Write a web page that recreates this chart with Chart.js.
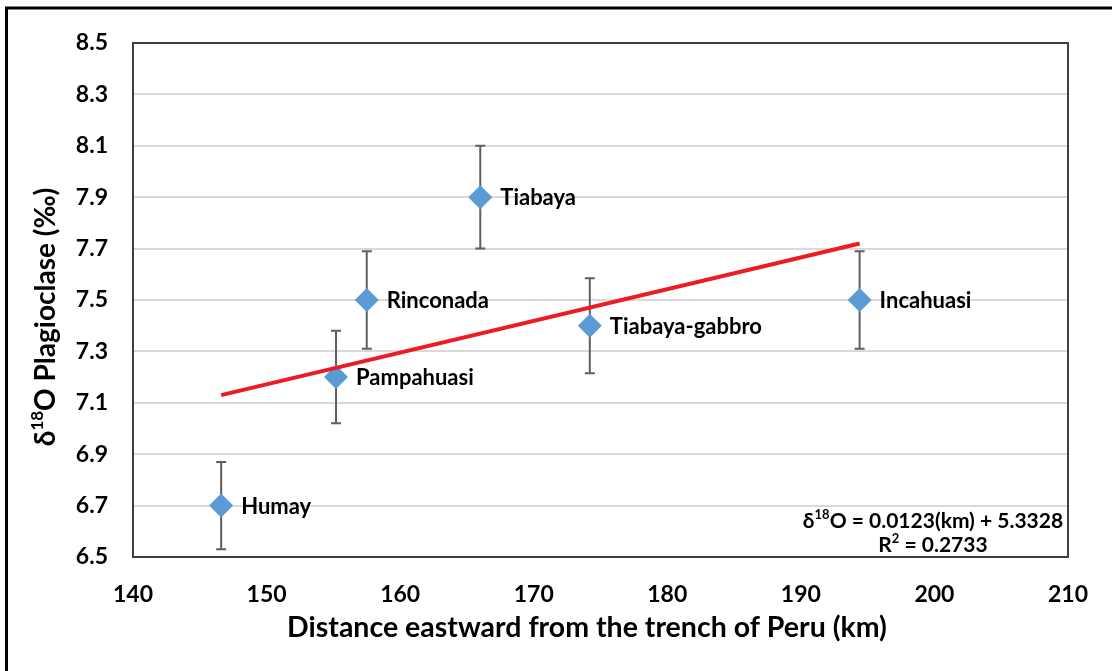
<!DOCTYPE html>
<html>
<head>
<meta charset="utf-8">
<title>d18O Plagioclase vs distance from trench</title>
<script src="https://cdn.jsdelivr.net/npm/chart.js@4.4.1/dist/chart.umd.min.js"></script>
<style>
    html, body { margin: 0; padding: 0; background: #ffffff; }
    #chart-wrap { width: 1112px; height: 671px; position: relative; }
</style>
</head>
<body>
<div id="chart-wrap"><canvas id="chart"></canvas></div>
<script>
// Data
const plutonNames = ["Humay", "Pampahuasi", "Rinconada", "Tiabaya", "Tiabaya-gabbro", "Incahuasi"];
const distanceKm = [146.6, 155.2, 157.5, 166.0, 174.2, 194.4];
const d18OValues = [6.70, 7.20, 7.50, 7.90, 7.40, 7.50];
const errorValues = [0.17, 0.18, 0.19, 0.20, 0.185, 0.19];
const trendX = [146.6, 194.4];
const trendY = [7.13, 7.72];
const xTickValues = [140, 150, 160, 170, 180, 190, 200, 210];
const yTickValues = [6.5, 6.7, 6.9, 7.1, 7.3, 7.5, 7.7, 7.9, 8.1, 8.3, 8.5];

const FONT = "Lato, 'Open Sans', sans-serif";

document.addEventListener("DOMContentLoaded", function() {
    const canvas = document.getElementById("chart");

    // Build the point lists for the library
    const points = distanceKm.map((x, i) => ({ x: x, y: d18OValues[i] }));
    const trend = trendX.map((x, i) => ({ x: x, y: trendY[i] }));

    // White page with the black frame on left and top
    const framePlugin = {
        id: "frame",
        beforeDraw(chart) {
            const ctx = chart.ctx;
            ctx.save();
            ctx.fillStyle = "#ffffff";
            ctx.fillRect(0, 0, chart.width, chart.height);
            ctx.strokeStyle = "#000000";
            ctx.lineWidth = 3;
            ctx.beginPath();
            ctx.moveTo(6.5, chart.height);
            ctx.lineTo(6.5, 8);
            ctx.lineTo(chart.width, 8);
            ctx.stroke();
            ctx.restore();
        },
        afterDraw(chart) {
            // plot area border
            const a = chart.chartArea;
            const ctx = chart.ctx;
            ctx.save();
            ctx.strokeStyle = "#404040";
            ctx.lineWidth = 2;
            ctx.strokeRect(a.left, a.top, a.right - a.left, a.bottom - a.top);
            ctx.restore();
        }
    };

    // Vertical error bars behind the diamonds
    const errorBarPlugin = {
        id: "errorBars",
        beforeDatasetsDraw(chart) {
            const ctx = chart.ctx;
            const xs = chart.scales.x;
            const ys = chart.scales.y;
            ctx.save();
            ctx.strokeStyle = "#5f5f5f";
            ctx.lineWidth = 2;
            distanceKm.forEach((x, i) => {
                const px = xs.getPixelForValue(x);
                const top = ys.getPixelForValue(d18OValues[i] + errorValues[i]);
                const bot = ys.getPixelForValue(d18OValues[i] - errorValues[i]);
                ctx.beginPath();
                ctx.moveTo(px, top);
                ctx.lineTo(px, bot);
                ctx.moveTo(px - 5, top);
                ctx.lineTo(px + 5, top);
                ctx.moveTo(px - 5, bot);
                ctx.lineTo(px + 5, bot);
                ctx.stroke();
            });
            ctx.restore();
        }
    };

    // Text: point names, axis titles and the regression equation
    const textPlugin = {
        id: "texts",
        afterDraw(chart) {
            const ctx = chart.ctx;
            const xs = chart.scales.x;
            const ys = chart.scales.y;
            ctx.save();
            ctx.fillStyle = "#000000";

            // pluton names
            ctx.font = "bold 22px " + FONT;
            ctx.textAlign = "left";
            ctx.textBaseline = "middle";
            plutonNames.forEach((name, i) => {
                ctx.fillText(name, xs.getPixelForValue(distanceKm[i]) + 20, ys.getPixelForValue(d18OValues[i]) + 1);
            });

            // x axis title
            ctx.font = "bold 28.5px " + FONT;
            ctx.textAlign = "center";
            ctx.fillText("Distance eastward from the trench of Peru (km)", 587, 628);

            // y axis title with superscript 18
            ctx.translate(46, 317);
            ctx.rotate(-Math.PI / 2);
            drawSup(ctx, "\u03b4", "18", "O Plagioclase (\u2030)", 0, 0, 28, "center");
            ctx.restore();

            // equation
            ctx.save();
            ctx.fillStyle = "#000000";
            ctx.textBaseline = "middle";
            drawSup(ctx, "\u03b4", "18", "O = 0.0123(km) + 5.3328", 933, 521, 21, "center");
            drawSup(ctx, "R", "2", " = 0.2733", 933, 545, 21, "center");
            ctx.restore();
        }
    };

    // Draw "base" + superscript + "rest" centred at (x, y)
    function drawSup(ctx, base, sup, rest, x, y, size, align) {
        ctx.textBaseline = "middle";
        ctx.textAlign = "left";
        const big = "bold " + size + "px " + FONT;
        const small = "bold " + Math.round(size * 0.62) + "px " + FONT;
        ctx.font = big;
        const w1 = ctx.measureText(base).width;
        const w3 = ctx.measureText(rest).width;
        ctx.font = small;
        const w2 = ctx.measureText(sup).width;
        const total = w1 + w2 + w3;
        let sx = align === "center" ? x - total / 2 : x;
        ctx.font = big;
        ctx.fillText(base, sx, y);
        ctx.font = small;
        ctx.fillText(sup, sx + w1, y - size * 0.3);
        ctx.font = big;
        ctx.fillText(rest, sx + w1 + w2, y);
    }

    new Chart(canvas, {
        type: "scatter",
        data: {
            datasets: [
                {
                    type: "line",
                    label: "Trend",
                    data: trend,
                    borderColor: "#ec1c24",
                    borderWidth: 4,
                    pointRadius: 0,
                    fill: false
                },
                {
                    label: "d18O",
                    data: points,
                    pointStyle: "rectRot",
                    pointRadius: 12,
                    pointHoverRadius: 12,
                    backgroundColor: "#5b9bd5",
                    borderWidth: 0
                }
            ]
        },
        options: {
            responsive: true,
            maintainAspectRatio: false,
            animation: false,
            layout: { padding: { left: 33, right: 39, top: 43, bottom: 0 } },
            plugins: {
                legend: { display: false },
                tooltip: { enabled: false }
            },
            scales: {
                x: {
                    type: "linear",
                    min: 140,
                    max: 210,
                    afterBuildTicks: (scale) => { scale.ticks = xTickValues.map(v => ({ value: v })); },
                    afterFit: (scale) => { scale.height = 114; },
                    grid: { display: false, drawTicks: false },
                    border: { display: false },
                    ticks: {
                        padding: 24,
                        color: "#000000",
                        font: { family: FONT, size: 23, weight: "bold" }
                    }
                },
                y: {
                    type: "linear",
                    min: 6.5,
                    max: 8.5,
                    afterBuildTicks: (scale) => { scale.ticks = yTickValues.map(v => ({ value: v })); },
                    afterFit: (scale) => { scale.width = 100; },
                    grid: { color: "#d9d9d9", lineWidth: 2, drawTicks: false },
                    border: { display: false },
                    ticks: {
                        padding: 25,
                        color: "#000000",
                        font: { family: FONT, size: 23, weight: "bold" },
                        callback: (v) => Number(v).toFixed(1)
                    }
                }
            }
        },
        plugins: [framePlugin, errorBarPlugin, textPlugin]
    });
});
</script>
</body>
</html>
